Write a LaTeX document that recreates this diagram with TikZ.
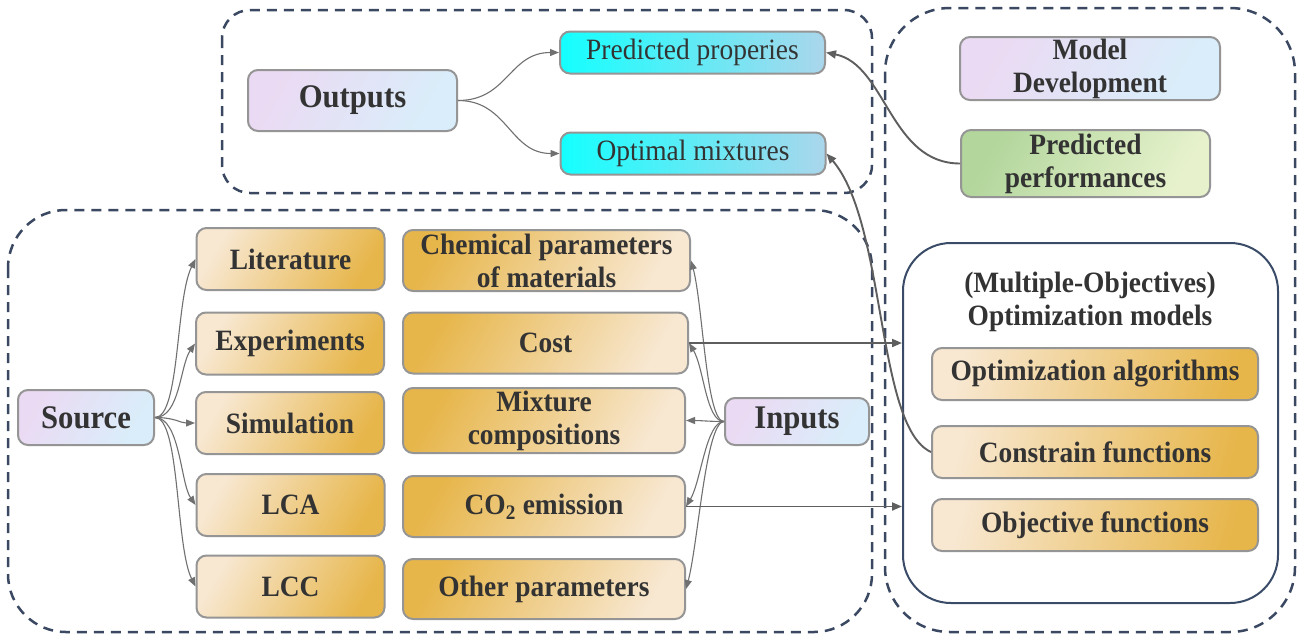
\documentclass[tikz,border=0pt]{standalone}
\usepackage{fontspec}
\setmainfont{Liberation Serif}[FakeStretch=0.93]
\usetikzlibrary{arrows.meta,shadings}
\definecolor{dashc}{HTML}{3B4862}
\definecolor{bordc}{HTML}{959595}
\definecolor{edgec}{HTML}{707070}
\definecolor{linkc}{HTML}{5E5E5E}
\definecolor{txtc}{HTML}{333333}
\definecolor{orL}{HTML}{F8E8D2}
\definecolor{orD}{HTML}{E7B64B}
\definecolor{puL}{HTML}{EBDAF3}
\definecolor{blL}{HTML}{D9EEFA}
\definecolor{cyA}{HTML}{14FFFF}
\definecolor{cyB}{HTML}{ABD6EC}
\definecolor{grA}{HTML}{B2D69C}
\definecolor{grB}{HTML}{E7F2CD}
\definecolor{optc}{HTML}{3A4B68}
\begin{document}
\begin{tikzpicture}[x=1pt,y=-1pt,
  box/.style={draw=bordc, line width=2pt, rounded corners=10pt, inner sep=0pt, align=center, text=txtc, font=\bfseries\fontsize{29.5}{33}\selectfont},
  srcbox/.style={box, minimum width=188pt, minimum height=62pt, left color=orL, right color=orD, shading angle=60},
  inbox/.style={box, minimum height=61pt, left color=orD, right color=orL, shading angle=60},
  optitem/.style={box, minimum width=326pt, minimum height=52pt, left color=orL, right color=orD, shading angle=75},
  hub/.style={box, left color=puL, right color=blL, shading angle=60, font=\bfseries\fontsize{33}{38}\selectfont},
  outbox/.style={box, font=\fontsize{29.5}{33}\selectfont, minimum width=265pt, minimum height=42pt, left color=cyA, right color=cyB, shading angle=90},
  dashbox/.style={draw=dashc, line width=2.5pt, dash pattern=on 10pt off 7pt},
  arr/.style={draw=edgec, line width=1.1pt, -{Triangle[length=9pt,width=7pt]}},
  link/.style={draw=linkc, line width=1.9pt, -{Triangle[length=10pt,width=8pt]}},
]
\useasboundingbox (0,0) rectangle (1304,640);
\fill[white] (0,0) rectangle (1304,640);

% containers
\draw[dashbox, rounded corners=28pt] (222,10) rectangle (872,193);
\draw[dashbox, rounded corners=58pt] (8,210) rectangle (872,632);
\draw[dashbox, rounded corners=65pt] (885,8) rectangle (1295,632);
\node[draw=optc, line width=2pt, rounded corners=48pt, minimum width=375pt, minimum height=360pt, inner sep=0pt] (optbox) at (1090.5,423) {};

% outputs area
\node[hub, minimum width=209pt, minimum height=61pt] (outputs) at (352.5,100.5) {Outputs};
\node[outbox] (props) at (692.5,52.5) {Predicted properies};
\node[outbox] (optmix) at (693,153.5) {Optimal mixtures};

% model development area
\node[hub, font=\bfseries\fontsize{29.5}{33}\selectfont, minimum width=260pt, minimum height=63pt] (modeldev) at (1090,68.5) {Model\\Development};
\node[box, left color=grA, right color=grB, shading angle=60, minimum width=249pt, minimum height=67pt] (perf) at (1085.5,163.5) {Predicted\\performances};

% source and inputs
\node[hub, minimum width=136pt, minimum height=55pt] (source) at (86,417.5) {Source};
\node[srcbox] (lit) at (290.5,259) {Literature};
\node[srcbox] (exp) at (290,343.5) {Experiments};
\node[srcbox] (sim) at (290,423) {Simulation};
\node[srcbox] (lca) at (290.5,505) {LCA};
\node[srcbox] (lcc) at (290.5,586.5) {LCC};

\node[inbox, minimum width=287pt] (chem) at (546.5,260.5) {Chemical parameters\\of materials};
\node[inbox, minimum width=285pt] (cost) at (545.5,343) {Cost};
\node[inbox, minimum width=282pt, minimum height=65pt] (mix) at (544,420.5) {Mixture\\compositions};
\node[inbox, minimum width=282pt] (co2) at (544,506.5) {CO\textsubscript{2} emission};
\node[inbox, minimum width=282pt, minimum height=60pt] (other) at (544,589) {Other parameters};
\node[hub, minimum width=144pt, minimum height=47pt] (inputs) at (797,421.5) {Inputs};

% optimization models
\node[align=center, text=txtc, font=\bfseries\fontsize{29.5}{33}\selectfont, inner sep=0pt] (opttitle) at (1090,302) {(Multiple-Objectives)\\Optimization models};
\node[optitem] (algo) at (1095,374) {Optimization algorithms};
\node[optitem] (cons) at (1095,452) {Constrain functions};
\node[optitem] (obj) at (1095,525) {Objective functions};

% outputs connectors
\draw[arr] (outputs.east) .. controls +(50,0) and +(-50,0) .. (props.west);
\draw[arr] (outputs.east) .. controls +(50,0) and +(-50,0) .. (optmix.west);

% source connectors
\draw[arr] (source.east) .. controls +(25,0) and +(-20,40) .. (lit.west);
\draw[arr] (source.east) .. controls +(25,0) and +(-15,22) .. (exp.west);
\draw[arr] (source.east) .. controls +(20,0) and +(-15,0) .. (sim.west);
\draw[arr] (source.east) .. controls +(25,0) and +(-15,-22) .. (lca.west);
\draw[arr] (source.east) .. controls +(25,0) and +(-20,-40) .. (lcc.west);

% inputs connectors
\draw[arr] (inputs.west) .. controls +(-18,0) and +(12,45) .. (chem.east);
\draw[arr] (inputs.west) .. controls +(-18,0) and +(15,25) .. (cost.east);
\draw[arr] (inputs.west) .. controls +(-15,0) and +(15,0) .. (mix.east);
\draw[arr] (inputs.west) .. controls +(-18,0) and +(15,-25) .. (co2.east);
\draw[arr] (inputs.west) .. controls +(-18,0) and +(12,-45) .. (other.east);

% links to optimization box
\draw[link] (cost.east) -- (cost.east -| optbox.west);
\draw[link] (co2.east) -- (co2.east -| optbox.west);

% feedback curves
\draw[link] (perf.west) .. controls +(-70,0) and +(60,12) .. (props.east);
\draw[link] (cons.west) .. controls +(-55,-25) and +(60,70) .. (optmix.east);
\end{tikzpicture}
\end{document}
